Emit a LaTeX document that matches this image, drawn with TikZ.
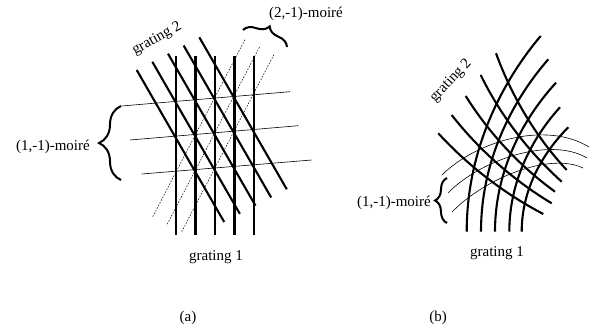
\documentclass[tikz,border=0pt]{standalone}
\usepackage{fontspec}
\setmainfont{Liberation Serif}
\usetikzlibrary{decorations.pathreplacing}

\tikzset{
  gratingline/.style={line width=2.1pt},
  moireline/.style={line width=0.6pt},
  dottedmoire/.style={line width=0.5pt, dash pattern=on 1.6pt off 1.4pt},
  moirebrace/.style={decorate, decoration={brace, amplitude=#1}, line width=2pt},
  figtext/.style={font=\fontsize{15}{18}\selectfont, inner sep=0pt}
}

\begin{document}
\begin{tikzpicture}[x=1pt,y=-1pt]
\useasboundingbox (0,0) rectangle (594,335);

% (a) straight gratings
\foreach \i in {0,...,4}
  \draw[gratingline] (176+19.5*\i,56) -- (176+19.5*\i,235);
\foreach \i in {0,...,4}
  \draw[gratingline] (136.7+15.65*\i,70-8.17*\i) -- ++(87.5,152);

% (1,-1) and (2,-1) moire lines
\draw[moireline] (121.7,106) -- (290,91.7);
\draw[moireline] (130,140) -- (298.3,125.7);
\draw[moireline] (141.7,174) -- (311.7,160);
\foreach \i in {0,1,2}
  \draw[dottedmoire] (152.7+14.5*\i,216.7+7.5*\i) -- ++(92.4,-177.4);

\draw[moirebrace=22pt] (121,180) -- (121,106);
\draw[moirebrace=13pt] (243,30) -- (287,47);

\node[figtext, anchor=east] (moireA) at (90,147) {(1,-1)-moiré};
\node[figtext] (moireTop) at (306,14) {(2,-1)-moiré};
\node[figtext, rotate=29] (gratingTwoA) at (157,39) {grating 2};
\node[figtext] (gratingOneA) at (216,257) {grating 1};
\node[figtext] (captionA) at (188,318) {(a)};

% (b) curved gratings
\foreach \xb/\xt/\yt in {466.7/540.7/36, 481/548.3/59.3, 495/556/82.7,
    509.3/560/107.3, 521.7/568.3/127.3}
  \draw[gratingline] (\xb,231.7)
    .. controls ({\xb},{231.7-0.45*(231.7-\yt)})
    and ({\xt-0.45*(\xt-\xb)},{\yt+0.2*(231.7-\yt)}) .. (\xt,\yt);

\draw[gratingline] (438.3,133.3) .. controls (468.1,165.8) and (504.2,193.6) .. (543.3,214);
\draw[gratingline] (451.7,115) .. controls (479.1,150.1) and (513.6,180.4) .. (551.7,203.3);
\draw[gratingline] (465.7,96) .. controls (488.8,133) and (519.7,166.1) .. (555,191.7);
\draw[gratingline] (480.7,75) .. controls (500.3,115.2) and (528.5,151.8) .. (561.7,181.7);
\draw[gratingline] (496,53.3) .. controls (511.6,96.1) and (535.7,136.7) .. (566.7,170);

\draw[moireline] (442,175) .. controls (475,142) and (545,120) .. (589,147);
\draw[moireline] (448,193) .. controls (480,160) and (550,136) .. (587,158);
\draw[moireline] (452,212) .. controls (485,178) and (550,152) .. (583,168);

\draw[moirebrace=12pt] (447,223) -- (447,178);

\node[figtext, anchor=east] (moireB) at (431,203) {(1,-1)-moiré};
\node[figtext, rotate=47] (gratingTwoB) at (451,81) {grating 2};
\node[figtext] (gratingOneB) at (497,253) {grating 1};
\node[figtext] (captionB) at (438,318) {(b)};
\end{tikzpicture}
\end{document}
